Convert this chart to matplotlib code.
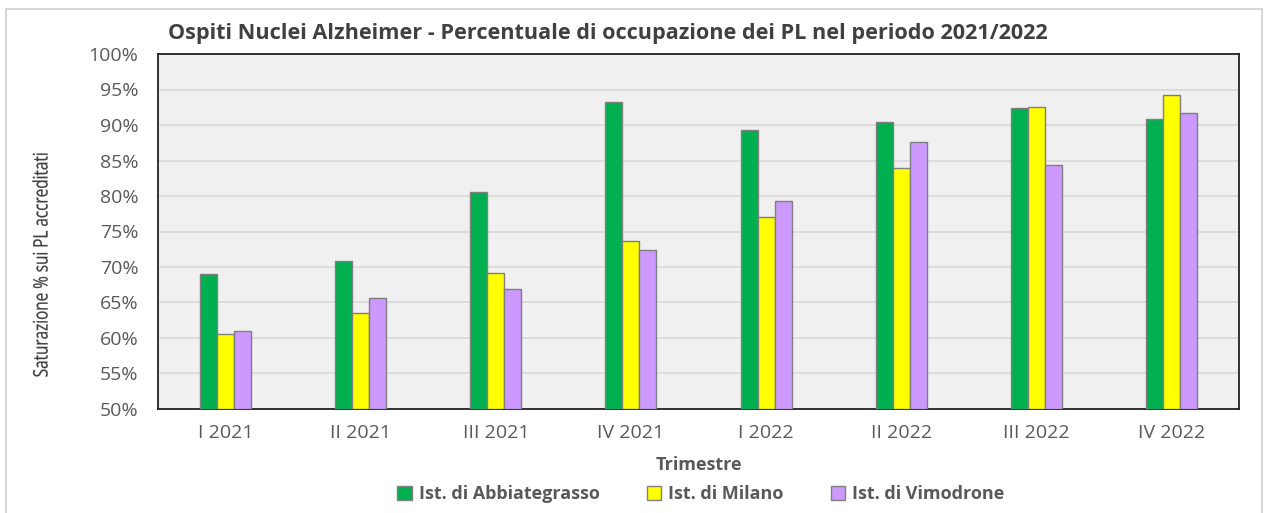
import numpy as np
import matplotlib.pyplot as plt
from matplotlib.patches import Rectangle, PathPatch
from matplotlib.ticker import FuncFormatter
from matplotlib.textpath import TextPath
from matplotlib.font_manager import FontProperties
from matplotlib.transforms import Affine2D, IdentityTransform

# Quarters and occupancy (%) per institute
trimestri = ['I 2021', 'II 2021', 'III 2021', 'IV 2021', 'I 2022', 'II 2022', 'III 2022', 'IV 2022']
abbiategrasso = [69.0, 70.9, 80.6, 93.3, 89.3, 90.4, 92.4, 90.9]
milano = [60.6, 63.5, 69.2, 73.6, 77.0, 83.9, 92.5, 94.2]
vimodrone = [61.0, 65.6, 66.9, 72.4, 79.3, 87.6, 84.3, 91.7]
series_names = ['Ist. di Abbiategrasso', 'Ist. di Milano', 'Ist. di Vimodrone']

colors = ['#00B050', '#FFFF00', '#CC99FF']
text_col = '#595959'

plt.rcParams['font.family'] = ['Open Sans', 'DejaVu Sans']

W, H = 1265, 513
fig = plt.figure(figsize=(W / 100, H / 100), dpi=100)
fig.patch.set_facecolor('white')
# outer chart border
fig.add_artist(Rectangle((6 / W, -0.05), 1256 / W, 1.05 - 9 / H, transform=fig.transFigure,
                         fill=False, edgecolor='#D0D0D0', linewidth=1.2))

ax = fig.add_axes([158 / W, 1 - 409 / H, 1081 / W, 355 / H])
ax.set_facecolor('#F0F0F0')

x = np.arange(len(trimestri))
w = 0.126
for i, (vals, name) in enumerate(zip([abbiategrasso, milano, vimodrone], series_names)):
    ax.bar(x + (i - 1) * w, np.array(vals) - 50, bottom=50, width=w, color=colors[i],
           edgecolor='#7F7F7F', linewidth=1.0, label=name, zorder=3)

ax.set_xlim(-0.5, len(trimestri) - 0.5)
ax.set_ylim(50, 100)
ax.set_yticks(np.arange(50, 101, 5))
ax.yaxis.set_major_formatter(FuncFormatter(lambda v, p: f'{int(v)}%'))
ax.grid(axis='y', color='#D9D9D9', linewidth=1.2, zorder=0)
ax.set_axisbelow(True)
ax.set_xticks(x)
ax.set_xticklabels(trimestri)
ax.tick_params(axis='both', length=0, labelsize=14, colors=text_col)
ax.tick_params(axis='x', pad=11)
ax.tick_params(axis='y', pad=14)
for s in ax.spines.values():
    s.set_color('#222222')
    s.set_linewidth(1.3)

ax.set_xlabel('Trimestre', fontsize=13, fontweight='bold', color=text_col, labelpad=10)

# condensed y label: text path squeezed along its length
tp = TextPath((0, 0), 'Saturazione % sui PL accreditati', size=20,
              prop=FontProperties(family='Open Sans'))
bb = tp.get_extents()
tr = (Affine2D().translate(-(bb.x0 + bb.x1) / 2, -(bb.y0 + bb.y1) / 2)
      .scale(223 / bb.width, 1.0).rotate_deg(90).translate(40, H - 265))
fig.add_artist(PathPatch(tr.transform_path(tp), transform=IdentityTransform(),
                         facecolor='#404040', edgecolor='#404040', linewidth=0.2))

fig.text(168 / W, 1 - 33 / H, 'Ospiti Nuclei Alzheimer - Percentuale di occupazione dei PL nel periodo 2021/2022',
         ha='left', va='center', fontsize=15.55, fontweight='bold', color='#404040')

leg = fig.legend(loc='center', bbox_to_anchor=(701 / W, 1 - 494 / H), ncol=3, frameon=False,
                 fontsize=13, handlelength=0.8, handleheight=0.8, handletextpad=0.4, columnspacing=2.6)
for t in leg.get_texts():
    t.set_color(text_col)
    t.set_fontweight('bold')

fig.savefig('out.png', dpi=100)
